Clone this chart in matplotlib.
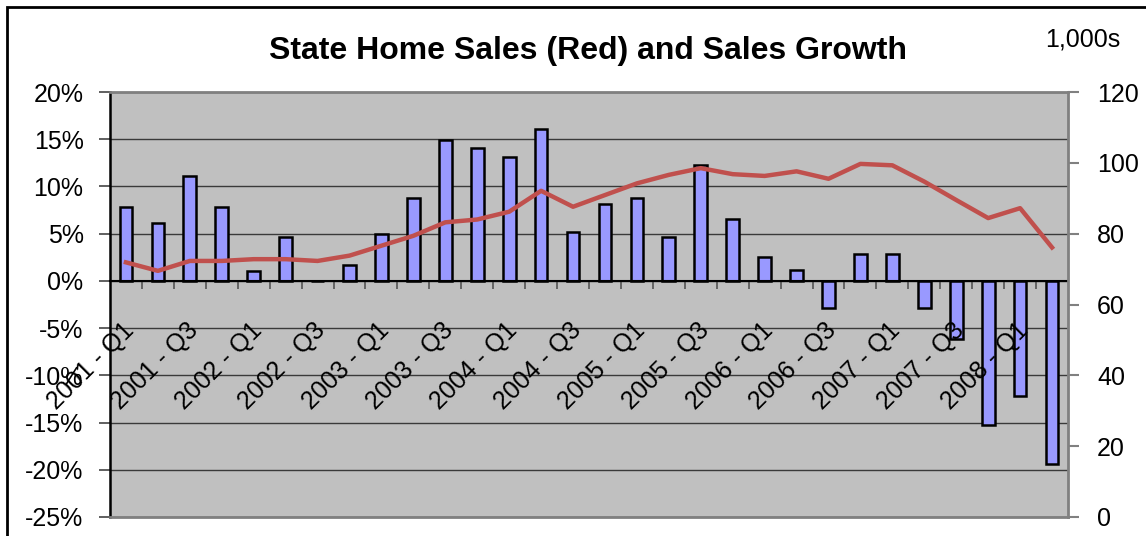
#coding:utf-8
import matplotlib
matplotlib.use("Agg")
import matplotlib.pyplot as plt
from matplotlib.patches import Rectangle
from matplotlib.ticker import FuncFormatter

plt.rcParams['font.family'] = ['Liberation Sans', 'DejaVu Sans']

# 季度标签 (2001 Q1 - 2008 Q2)
quarters = [f"{y} - Q{q}" for y in range(2001, 2009) for q in range(1, 5)][:30]
# 销售增长率 (%)
growth = [7.8, 6.1, 11.1, 7.8, 1.1, 4.6, 0.0, 1.7, 5.0, 8.8,
          14.9, 14.1, 13.1, 16.1, 5.2, 8.1, 8.8, 4.7, 12.3, 6.6,
          2.5, 1.2, -2.9, 2.9, 2.9, -2.9, -6.2, -15.3, -12.2, -19.4]
# 房屋销售量 (千套)
sales = [71.9, 69.5, 72.3, 72.3, 72.8, 72.8, 72.3, 73.8, 76.6, 79.4,
         83.2, 84.0, 86.2, 92.1, 87.6, 90.9, 94.2, 96.6, 98.5, 96.8,
         96.3, 97.6, 95.5, 99.7, 99.3, 94.7, 89.5, 84.4, 87.2, 76.1]

W, H = 1146, 536
fig = plt.figure(figsize=(W / 100, H / 100), dpi=100)
ax = fig.add_axes([110 / W, 1 - 517 / H, 958 / W, 425 / H])
ax.set_facecolor('#C0C0C0')

xs = list(range(len(quarters)))
ax.bar(xs, [g / 100 for g in growth], width=0.4, color='#9999FF',
       edgecolor='black', linewidth=1.8, zorder=3)

ax.set_xlim(-0.5, len(quarters) - 0.5)
ax.set_ylim(-0.25, 0.20)
ax.set_yticks([i * 0.05 for i in range(-5, 5)])
ax.yaxis.set_major_formatter(FuncFormatter(lambda v, p: f"{v * 100:.0f}%"))
ax.yaxis.grid(True, color='#3a3a3a', linewidth=1.0, zorder=1)
ax.tick_params(axis='y', labelsize=18, length=8, width=1.2, color='#444444', pad=11)

# 类别轴放在 0% 位置
ax.spines['bottom'].set_position(('data', 0))
ax.spines['bottom'].set_color('black')
ax.spines['bottom'].set_linewidth(1.5)
ax.spines['bottom'].set_zorder(4)
ax.spines['left'].set_color('black')
ax.spines['left'].set_linewidth(1.8)
ax.spines['top'].set_color('#808080')
ax.spines['top'].set_linewidth(2)
ax.spines['right'].set_visible(False)
ax.set_xticks([i + 0.5 for i in xs[:-1]])
ax.set_xticklabels([])
ax.tick_params(axis='x', length=6, width=1.2, color='#555555', direction='out')

for i in xs[::2]:
    ax.annotate(quarters[i], xy=(i, 0), xytext=(-3, -27), textcoords='offset points',
                rotation=45, ha='right', va='top', rotation_mode='anchor',
                fontsize=18, zorder=5)

ax2 = ax.twinx()
ax2.plot(xs, sales, color='#C0504D', linewidth=3.2, zorder=4)
ax2.set_ylim(0, 120)
ax2.set_yticks(range(0, 121, 20))
ax2.tick_params(axis='y', labelsize=18, length=8, width=1.5, color='#808080', pad=13)
for s in ['left', 'top']:
    ax2.spines[s].set_visible(False)
ax2.spines['right'].set_color('#808080')
ax2.spines['right'].set_linewidth(2)
ax2.spines['bottom'].set_color('#808080')
ax2.spines['bottom'].set_linewidth(2)

fig.text(588 / W, 1 - 51 / H, 'State Home Sales (Red) and Sales Growth',
         ha='center', va='center', fontsize=23, fontweight='bold')
fig.text(1083 / W, 1 - 40 / H, '1,000s', ha='center', va='center', fontsize=18)

# 外框
fig.patches.append(Rectangle((7 / W, -0.1), 1.2, 1.1 - 7 / H, transform=fig.transFigure,
                             fill=False, edgecolor='black', linewidth=2))

fig.savefig('out.png', dpi=100)
